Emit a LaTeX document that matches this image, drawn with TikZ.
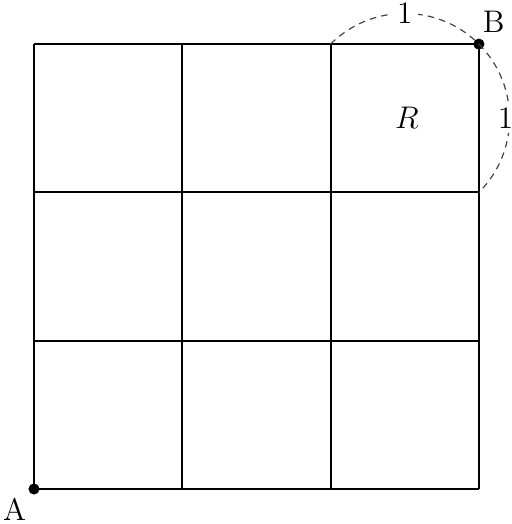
\documentclass[tikz,border=0pt]{standalone}
\begin{document}
\begin{tikzpicture}[
  gridline/.style={line width=0.8pt},
  dimarc/.style={dashed, dash pattern=on 2.5pt off 2pt, line width=0.45pt, black!75},
  dot/.style={circle, fill=black, inner sep=0pt, minimum size=0.15cm},
  lbl/.style={font=\large, text=black}
]
\useasboundingbox (-0.4585,-0.472) rectangle (6.446,6.595);
\draw[gridline] (0,0) grid[step=2] (6,6);
\node[dot] (A) at (0,0) {};
\node[dot] (B) at (6,6) {};
\coordinate (T) at (4,6);
\coordinate (Rt) at (6,4);
\node[lbl] (la) at (-0.26,-0.28) {A};
\node[lbl] (lb) at (6.2,6.3) {B};
\node[lbl] (r) at (5.03,5.0) {$R$};
\draw[dimarc] (T) to[bend left=45] node[lbl, fill=white, inner sep=2pt] {1} (B.center);
\draw[dimarc] (B.center) to[bend left=45] node[lbl, fill=white, inner sep=1.5pt, xshift=-1.5pt] {1} (Rt);
\end{tikzpicture}
\end{document}
